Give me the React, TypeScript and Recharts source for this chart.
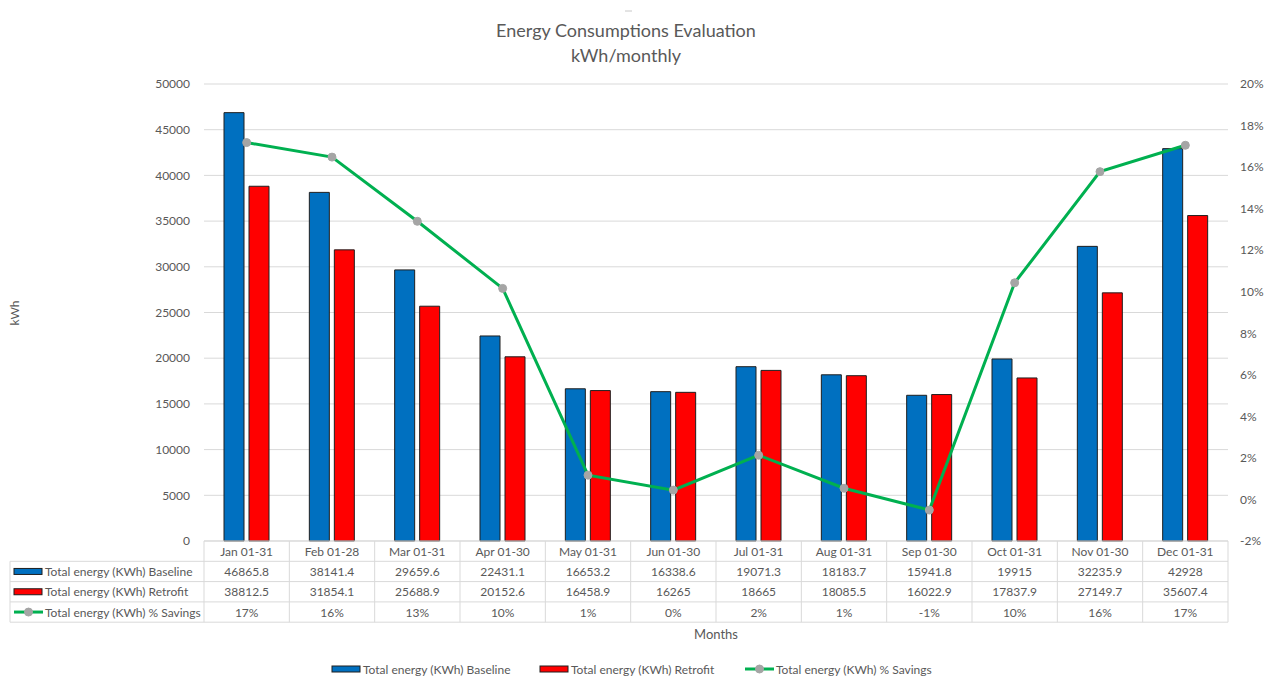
import React from 'react';
import { ComposedChart, Bar, Line, XAxis, YAxis, CartesianGrid } from 'recharts';

const months = ['Jan 01-31', 'Feb 01-28', 'Mar 01-31', 'Apr 01-30', 'May 01-31', 'Jun 01-30', 'Jul 01-31', 'Aug 01-31', 'Sep 01-30', 'Oct 01-31', 'Nov 01-30', 'Dec 01-31'];
const baseline = [46865.8, 38141.4, 29659.6, 22431.1, 16653.2, 16338.6, 19071.3, 18183.7, 15941.8, 19915, 32235.9, 42928];
const retrofit = [38812.5, 31854.1, 25688.9, 20152.6, 16458.9, 16265, 18665, 18085.5, 16022.9, 17837.9, 27149.7, 35607.4];
const savings = [17.18, 16.48, 13.39, 10.16, 1.17, 0.45, 2.13, 0.54, -0.51, 10.43, 15.78, 17.05];
const leftTicks = [0, 5000, 10000, 15000, 20000, 25000, 30000, 35000, 40000, 45000, 50000];
const rightTicks = [-2, 0, 2, 4, 6, 8, 10, 12, 14, 16, 18, 20];

const seriesNames = ['Total energy (KWh) Baseline', 'Total energy (KWh) Retrofit', 'Total energy (KWh) % Savings'];

const data = months.map((m, i) => ({ month: m, baseline: baseline[i], retrofit: retrofit[i], savings: savings[i] }));

const W = 1264;
const H = 677;
const PL = 204;
const PR = 1228;
const PT = 84;
const PB = 541;
const FONT = 'Lato, "Liberation Sans", sans-serif';
const GRAY = '#595959';
const GRID = '#d9d9d9';
const BLUE = '#0070c0';
const RED = '#ff0000';
const GREEN = '#00b050';
const MARK = '#a5a5a5';
const EDGE = '#1f1f1f';

const ROW_H = 20.3;
const TABLE_LEFT = 10;
const LEGEND_Y = 669;

function Key({ kind, x, y }: { kind: number; x: number; y: number }) {
  if (kind === 0 || kind === 1) {
    return <rect x={x} y={y - 3} width={28} height={6} fill={kind === 0 ? BLUE : RED} stroke={EDGE} strokeWidth={1} />;
  }
  return (
    <g>
      <line x1={x} y1={y} x2={x + 29} y2={y} stroke={GREEN} strokeWidth={3} />
      <circle cx={x + 14.5} cy={y} r={4} fill={MARK} stroke={MARK} />
    </g>
  );
}

function Overlay() {
  const colW = (PR - PL) / months.length;
  const rows = [
    baseline.map((v) => String(v)),
    retrofit.map((v) => String(v)),
    savings.map((v) => `${Math.round(v)}%`),
  ];
  const lines: React.ReactNode[] = [];
  lines.push(<line key="h0" x1={PL} y1={PB} x2={PR} y2={PB} stroke={GRID} />);
  for (let r = 1; r <= 4; r++) {
    const y = PB + r * ROW_H;
    lines.push(<line key={'h' + r} x1={TABLE_LEFT} y1={y} x2={PR} y2={y} stroke={GRID} />);
  }
  lines.push(<line key="vl" x1={TABLE_LEFT} y1={PB + ROW_H} x2={TABLE_LEFT} y2={PB + 4 * ROW_H} stroke={GRID} />);
  for (let c = 0; c <= months.length; c++) {
    const x = PL + c * colW;
    lines.push(<line key={'v' + c} x1={x} y1={PB} x2={x} y2={PB + 4 * ROW_H} stroke={GRID} />);
  }
  return (
    <svg width={W} height={H} style={{ position: 'absolute', left: 0, top: 0, pointerEvents: 'none' }} fontFamily={FONT}>
      <line x1={625} y1={11} x2={632} y2={11} stroke="#c8c8c8" strokeWidth={1} />
      <text x={626} y={37} textAnchor="middle" fontSize={18} fill={GRAY}>Energy Consumptions Evaluation</text>
      <text x={626} y={62} textAnchor="middle" fontSize={18} fill={GRAY}>kWh/monthly</text>
      <text x={14} y={313} textAnchor="middle" dominantBaseline="central" fontSize={12} fill={GRAY} transform="rotate(-90 14 313)">kWh</text>
      {lines}
      {months.map((m, i) => (
        <text key={'m' + i} x={PL + (i + 0.5) * colW} y={PB + 0.5 * ROW_H} textAnchor="middle" dominantBaseline="central" fontSize={12} fill={GRAY}>{m}</text>
      ))}
      {rows.map((row, r) => (
        <g key={'r' + r}>
          <Key kind={r} x={TABLE_LEFT + 4} y={PB + (r + 1.5) * ROW_H} />
          <text x={TABLE_LEFT + 35} y={PB + (r + 1.5) * ROW_H} dominantBaseline="central" fontSize={12} fill={GRAY}>{seriesNames[r]}</text>
          {row.map((v, i) => (
            <text key={i} x={PL + (i + 0.5) * colW} y={PB + (r + 1.5) * ROW_H} textAnchor="middle" dominantBaseline="central" fontSize={12} fill={GRAY}>{v}</text>
          ))}
        </g>
      ))}
      <text x={716} y={634} textAnchor="middle" dominantBaseline="central" fontSize={13} fill={GRAY}>Months</text>
      {[332, 540, 745].map((x, i) => (
        <g key={'lg' + i}>
          <Key kind={i} x={x} y={LEGEND_Y} />
          <text x={x + 31} y={LEGEND_Y} dominantBaseline="central" fontSize={12} fill={GRAY}>{seriesNames[i]}</text>
        </g>
      ))}
    </svg>
  );
}

export default function App() {
  return (
    <div style={{ position: 'absolute', left: 0, top: 0, width: W, height: H, background: '#fff', overflow: 'hidden' }}>
      <ComposedChart
        width={W}
        height={H}
        data={data}
        margin={{ top: PT, right: 0, bottom: H - PB, left: PL - 80 }}
        barGap={5}
        barSize={20}
      >
        <CartesianGrid yAxisId="left" vertical={false} stroke={GRID} />
        <XAxis dataKey="month" hide />
        <YAxis
          yAxisId="left"
          orientation="left"
          width={80}
          domain={[0, 50000]}
          ticks={leftTicks}
          axisLine={false}
          tickLine={false}
          tickSize={0}
          tickMargin={14}
          interval={0}
          tick={{ fill: GRAY, fontSize: 12, fontFamily: FONT }}
        />
        <YAxis
          yAxisId="right"
          orientation="right"
          width={W - PR}
          domain={[-2, 20]}
          ticks={rightTicks}
          axisLine={false}
          tickLine={false}
          tickSize={0}
          tickMargin={12}
          interval={0}
          tickFormatter={(v: number) => `${v}%`}
          tick={{ fill: GRAY, fontSize: 12, fontFamily: FONT, textAnchor: 'start' }}
        />
        <Bar yAxisId="left" dataKey="baseline" name={seriesNames[0]} fill={BLUE} stroke={EDGE} strokeWidth={1} isAnimationActive={false} />
        <Bar yAxisId="left" dataKey="retrofit" name={seriesNames[1]} fill={RED} stroke={EDGE} strokeWidth={1} isAnimationActive={false} />
        <Line
          yAxisId="right"
          dataKey="savings"
          name={seriesNames[2]}
          type="linear"
          stroke={GREEN}
          strokeWidth={3}
          dot={{ r: 4, fill: MARK, stroke: MARK, strokeWidth: 1 }}
          activeDot={false}
          isAnimationActive={false}
        />
      </ComposedChart>
      <Overlay />
    </div>
  );
}
